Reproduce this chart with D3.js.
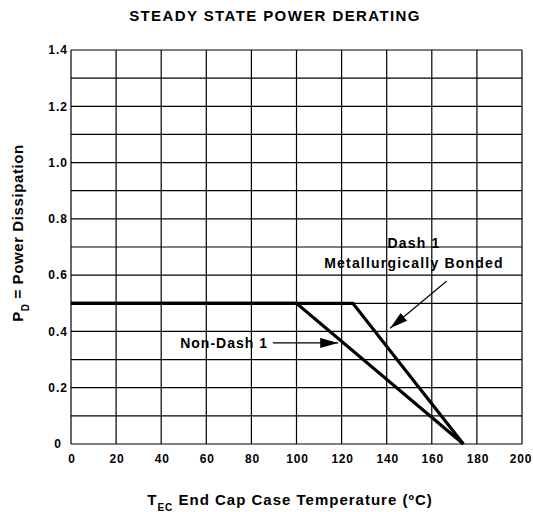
<!DOCTYPE html>
<html>
<head>
<meta charset="utf-8">
<script src="https://cdnjs.cloudflare.com/ajax/libs/d3/7.8.5/d3.min.js"></script>
<style>
  body { margin: 0; background: #fff; }
  text { font-family: "Liberation Sans", Arial, sans-serif; font-weight: bold; fill: #000; }
</style>
</head>
<body>
<div id="chart"></div>
<script>
// axis ticks
const xTicks = [0, 20, 40, 60, 80, 100, 120, 140, 160, 180, 200];
const yTicks = [0, 0.2, 0.4, 0.6, 0.8, 1.0, 1.2, 1.4];
const yGrid = [0.1, 0.2, 0.3, 0.4, 0.5, 0.6, 0.7, 0.8, 0.9, 1.0, 1.1, 1.2, 1.3];

// derating curves (temperature degC, power W)
const nonDashT = [0, 100, 174];
const nonDashP = [0.5, 0.5, 0];
const dash1T = [0, 125, 174];
const dash1P = [0.5, 0.5, 0];

// callouts: tail -> tip in data units
const arrows = [
  { x1: 89.5, y1: 0.359, x2: 118.5, y2: 0.359 },
  { x1: 166.5, y1: 0.578, x2: 141.5, y2: 0.411 }
];

const W = 533, H = 512;
const m = { top: 50, right: 11, bottom: 68, left: 71 };

const svg = d3.select('#chart').append('svg').attr('width', W).attr('height', H);

const x = d3.scaleLinear().domain([0, 200]).range([m.left, W - m.right]);
const y = d3.scaleLinear().domain([0, 1.4]).range([H - m.bottom, m.top]);

// title
svg.append('text').text('STEADY STATE POWER DERATING')
  .attr('x', 275).attr('y', 20.5).attr('text-anchor', 'middle')
  .style('font-size', '15px').style('letter-spacing', '1.4px');

// grid
const g = svg.append('g');
g.selectAll('.vg').data(xTicks).join('line')
  .attr('x1', d => x(d)).attr('x2', d => x(d))
  .attr('y1', y(0)).attr('y2', y(1.4))
  .attr('stroke', '#000').attr('stroke-width', 1.2);
g.selectAll('.hg').data(yGrid.concat([0, 1.4])).join('line')
  .attr('x1', x(0)).attr('x2', x(200))
  .attr('y1', d => y(d)).attr('y2', d => y(d))
  .attr('stroke', '#000').attr('stroke-width', 1.2);

// tick labels
svg.selectAll('.xl').data(xTicks).join('text')
  .text(d => d)
  .attr('x', d => d === 200 ? x(d) - 1 : x(d) + 1).attr('y', 463)
  .attr('text-anchor', 'middle')
  .style('font-size', '12px').style('letter-spacing', '0.8px');

svg.selectAll('.yl').data(yTicks).join('text')
  .text(d => d === 0 ? '0' : d3.format('.1f')(d))
  .attr('x', d => d === 0 ? 62 : 68).attr('y', d => y(d)).attr('dy', '0.36em')
  .attr('text-anchor', 'end')
  .style('font-size', '12px').style('letter-spacing', '1px');

// curves
const line = d3.line().x(d => x(d[0])).y(d => y(d[1]));
[[nonDashT, nonDashP], [dash1T, dash1P]].forEach(([ts, ps]) => {
  svg.append('path')
    .datum(ts.map((t, i) => [t, ps[i]]))
    .attr('d', line)
    .attr('fill', 'none').attr('stroke', '#000')
    .attr('stroke-width', 3.2).attr('stroke-linejoin', 'miter');
});

// arrows
svg.append('defs').append('marker')
  .attr('id', 'ah').attr('viewBox', '0 0 18 10')
  .attr('refX', 18).attr('refY', 5)
  .attr('markerWidth', 18).attr('markerHeight', 10)
  .attr('markerUnits', 'userSpaceOnUse').attr('orient', 'auto')
  .append('path').attr('d', 'M0,0 L18,5 L0,10 Z').attr('fill', '#000');

svg.selectAll('.arr').data(arrows).join('line')
  .attr('x1', d => x(d.x1)).attr('y1', d => y(d.y1))
  .attr('x2', d => x(d.x2)).attr('y2', d => y(d.y2))
  .attr('stroke', '#000').attr('stroke-width', 1.2)
  .attr('marker-end', 'url(#ah)');

// labels
svg.append('text').text('Non-Dash 1')
  .attr('x', 268).attr('y', 348).attr('text-anchor', 'end')
  .style('font-size', '14px').style('letter-spacing', '1px');
svg.append('text').text('Dash 1')
  .attr('x', 414).attr('y', 248).attr('text-anchor', 'middle')
  .style('font-size', '14px').style('letter-spacing', '1.2px');
svg.append('text').text('Metallurgically Bonded')
  .attr('x', 414).attr('y', 268).attr('text-anchor', 'middle')
  .style('font-size', '14px').style('letter-spacing', '1.2px');

// x axis title
const xt = svg.append('text').attr('x', 290).attr('y', 505).attr('text-anchor', 'middle')
  .style('font-size', '15px').style('letter-spacing', '1px');
xt.append('tspan').text('T');
xt.append('tspan').text('EC').attr('dy', 6).style('font-size', '10px');
xt.append('tspan').text(' End Cap Case Temperature (ºC)').attr('dy', -6);

// y axis title
const yt = svg.append('text')
  .attr('transform', 'translate(23,233) rotate(-90)')
  .attr('text-anchor', 'middle')
  .style('font-size', '15px').style('letter-spacing', '0.6px');
yt.append('tspan').text('P');
yt.append('tspan').text('D').attr('dy', 6).style('font-size', '10px');
yt.append('tspan').text(' = Power Dissipation').attr('dy', -6);
</script>
</body>
</html>
